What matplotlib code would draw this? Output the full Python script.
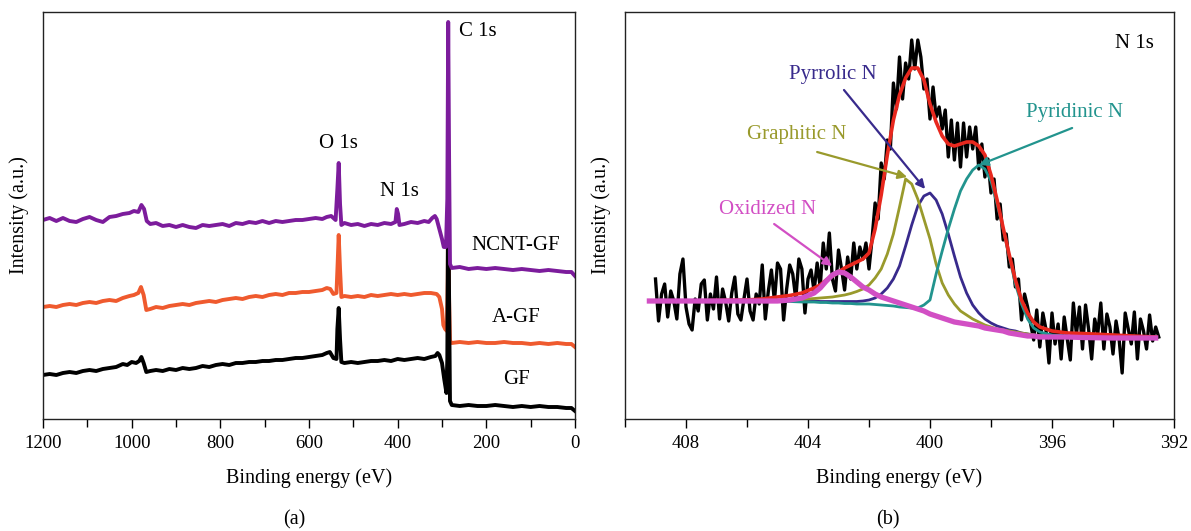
import numpy as np
import matplotlib.pyplot as plt
from matplotlib.ticker import MultipleLocator

plt.rcParams['font.family'] = ['Liberation Serif', 'DejaVu Serif']

# ---- (a) survey spectra: binding energy (eV) and intensity (a.u.) ----
ncnt_e = [1200, 1185, 1170, 1155, 1140, 1125, 1110, 1095, 1080, 1065, 1050, 1035, 1020, 1005,
          995, 985, 978, 972, 966, 958,
          945, 930, 915, 900, 885, 870, 855, 840, 825, 810, 795, 780, 765, 750, 735, 720, 705,
          690, 675, 660, 645, 630, 615, 600, 585, 570,
          560, 550, 540, 536, 533, 530, 527, 520,
          505, 490, 475, 460, 445, 430, 415,
          405, 402, 399, 396,
          385, 370, 355, 340,
          330, 322, 316, 312, 306, 300, 296, 291, 288, 286, 284, 282, 278,
          260, 240, 220, 200, 180, 160, 140, 120, 100, 80, 60, 40, 20,
          8, 0]
ncnt_i = [199, 201, 198, 201, 198, 197, 200, 202, 199, 197, 202, 203, 205, 206,
          208, 207, 214, 210, 198, 195,
          196, 193, 194, 192, 194, 192, 191, 194, 193, 194, 195, 193, 196, 195, 197, 196, 198,
          196, 198, 197, 198, 199, 199, 200, 201, 200,
          202, 203, 199, 230, 256, 215, 194, 196,
          194, 195, 193, 195, 194, 196, 195,
          197, 210, 205, 194,
          195, 197, 196, 198,
          197, 201, 203, 200, 190, 180, 172, 172, 220, 397, 260, 155, 151,
          152, 150, 151, 150, 151, 150, 149, 150, 149, 148, 149, 148, 147,
          147, 143]

agf_e = [1200, 1185, 1170, 1155, 1140, 1125, 1110, 1095, 1080, 1065, 1050, 1035, 1020, 1005,
         995, 985, 979, 973, 967, 958,
         945, 930, 915, 900, 885, 870, 855, 840, 825, 810, 795, 780, 765, 750, 735, 720, 705,
         690, 675, 660, 645, 630, 615, 600, 585, 570,
         560, 552, 545, 538, 535, 533, 530, 527, 520,
         505, 490, 475, 460, 445, 430, 415, 400, 385, 370, 355, 340,
         325, 312, 306, 300, 297, 293, 289, 287, 286, 284, 282, 278,
         260, 240, 220, 200, 180, 160, 140, 120, 100, 80, 60, 40, 20,
         8, 0]
agf_i = [112, 113, 112, 114, 115, 114, 116, 117, 116, 118, 119, 118, 121, 123,
         124, 126, 132, 124, 109, 110,
         112, 111, 113, 114, 115, 114, 116, 117, 118, 117, 119, 120, 121, 120, 122, 123, 122,
         124, 125, 124, 126, 126, 127, 127, 128, 129,
         131, 130, 125, 126, 160, 184, 150, 122, 123,
         122, 123, 122, 124, 123, 124, 125, 124, 125, 124, 125, 126,
         126, 125, 122, 110, 94, 90, 88, 140, 230, 120, 78, 76,
         77, 76, 77, 76, 76, 77, 76, 76, 75, 76, 75, 76, 75,
         75, 72]

gf_e = [1200, 1185, 1170, 1155, 1140, 1125, 1110, 1095, 1080, 1065, 1050, 1035, 1020,
        1010, 1000, 990, 983, 978, 973, 967, 958,
        945, 930, 915, 900, 885, 870, 855, 840, 825, 810, 795, 780, 765, 750, 735, 720, 705,
        690, 675, 660, 645, 630, 615, 600, 585, 570,
        560, 553, 545, 538, 536, 533, 530, 527, 520,
        505, 490, 475, 460, 445, 430, 415, 400, 385, 370, 355, 340,
        325, 315, 310, 306, 300, 295, 290, 288, 286, 284, 282, 278,
        260, 240, 220, 200, 180, 160, 140, 120, 100, 80, 60, 40, 20,
        8, 0]
gf_i = [44, 45, 44, 46, 47, 46, 48, 49, 48, 50, 51, 52, 55,
        54, 57, 56, 58, 62, 56, 47, 48,
        49, 48, 50, 49, 51, 50, 51, 53, 52, 54, 55, 54, 56, 56, 57, 57, 58,
        58, 59, 59, 60, 61, 61, 62, 63, 64,
        66, 67, 61, 60, 90, 111, 80, 57, 56,
        57, 56, 57, 58, 58, 59, 58, 60, 59, 60, 61, 60,
        62, 63, 66, 64, 56, 40, 26, 60, 240, 120, 18, 14,
        13, 14, 13, 13, 14, 13, 12, 13, 12, 13, 12, 12, 11,
        11, 8]

# ---- (b) N 1s high resolution spectrum ----
raw_start, raw_step, raw_n = 409.0, 0.1, 166
raw_i = [140, 98, 125, 135, 102, 128, 118, 100, 145, 160,
         112, 95, 89, 120, 108, 135, 139, 99, 125, 110,
         142, 100, 130, 117, 98, 126, 142, 105, 99, 120,
         140, 108, 99, 125, 115, 154, 100, 128, 149, 118,
         156, 150, 99, 130, 154, 145, 120, 160, 150, 106,
         140, 149, 128, 156, 132, 176, 150, 186, 140, 128,
         169, 150, 129, 162, 140, 176, 150, 172, 160, 176,
         150, 180, 216, 200, 256, 240, 279, 270, 336, 310,
         362, 320, 356, 340, 379, 350, 379, 362, 330, 340,
         300, 332, 302, 312, 290, 309, 262, 299, 259, 296,
         252, 296, 262, 292, 270, 292, 250, 275, 242, 260,
         226, 240, 200, 215, 179, 185, 152, 160, 132, 140,
         99, 125, 112, 95, 79, 109, 72, 106, 90, 56,
         106, 75, 95, 60, 102, 80, 59, 116, 85, 112,
         70, 114, 90, 60, 100, 85, 116, 70, 105, 92,
         65, 98, 80, 46, 106, 90, 75, 107, 60, 100,
         88, 70, 104, 78, 92, 82]

fit_e = [409.2, 408.0, 407.0, 406.0, 405.5, 405.0, 404.6, 404.2, 403.8,
         403.6, 403.4, 403.2, 403.0, 402.8, 402.6, 402.4, 402.2, 402.0,
         401.8, 401.6, 401.4, 401.2, 401.0, 400.8, 400.6, 400.4, 400.2, 400.0,
         399.8, 399.6, 399.4, 399.2, 399.0, 398.8, 398.6, 398.4, 398.2, 398.0,
         397.8, 397.6, 397.4, 397.2, 397.0, 396.8, 396.6, 396.4, 396.0,
         395.5, 395.0, 394.0, 393.0, 392.6]
fit_total = [118, 118, 118.5, 119, 120, 122, 123.5, 126, 131,
             134, 139, 143, 147, 151, 154, 157, 160, 166,
             190, 224, 264, 299, 324, 341, 351, 351, 339, 315,
             297, 283, 275, 273, 275, 277, 277, 273, 264, 244,
             219, 191, 164, 139, 119, 106, 97, 92, 88,
             86, 85.5, 84, 82.5, 82]
oxidized = [118, 118, 118, 118, 118, 118, 119, 121, 126,
            131, 138, 144, 147, 146, 142, 137, 132, 129,
            125, 122, 120, 118, 116, 114, 112, 110, 108, 105,
            103, 101, 99, 97, 96, 95, 94, 93, 91, 90,
            89, 88, 86, 85, 84, 83, 83, 82, 82,
            82, 81.5, 81, 81, 81]
pyridinic = [118, 118, 118, 118, 118, 118, 117.5, 117, 117,
             116.5, 116.5, 116, 116, 115.5, 115.5, 115, 115, 115,
             114.5, 114, 113.5, 113, 112, 111.5, 111, 111, 114, 119,
             145, 168, 190, 210, 228, 240, 249, 254, 250, 238,
             215, 190, 162, 135, 115, 100, 91, 87, 84,
             83, 82, 81.5, 81, 81]
pyrrolic = [118, 118, 118, 118, 118, 118, 118, 118, 118,
            117.5, 117.5, 117.5, 117.5, 117.5, 117.5, 117.5, 118, 119,
            121, 125, 131, 140, 153, 173, 194, 213, 223, 226,
            219, 205, 185, 163, 142, 126, 114, 106, 100, 96,
            93, 91, 89, 88, 86, 85, 84, 83, 83,
            82, 82, 81.5, 81, 81]
graphitic = [118, 118, 118, 118.5, 118.5, 118.5, 119, 119.5, 120.5,
             121, 121.5, 122, 123, 124, 125.5, 127.5, 130, 134,
             141, 150, 165, 185, 212, 240, 235, 220, 200, 180,
             155, 136, 124, 115, 108, 104, 100, 97, 94, 92,
             90, 89, 88, 87, 86, 85, 84, 83.5, 83,
             82.5, 82, 81.5, 81, 81]

raw_e = raw_start - raw_step * np.arange(raw_n)

c_purple = '#7c1c9c'
c_orange = '#ef5a2e'
c_red = '#e8281e'
c_pink = '#d24fc4'
c_teal = '#22948e'
c_blue = '#382a8c'
c_olive = '#999a2c'
fs_tick, fs_label, fs_note = 13.5, 14.5, 15

W, H = 1191, 531
fig = plt.figure(figsize=(W / 100, H / 100), dpi=100)
ax1 = fig.add_axes([43 / W, 1 - 419 / H, 532 / W, 407 / H])
ax2 = fig.add_axes([625 / W, 1 - 419 / H, 549 / W, 407 / H])

# (a)
ax1.plot(agf_e, agf_i, color=c_orange, lw=2.8)
ax1.plot(gf_e, gf_i, color='black', lw=2.8)
ax1.plot(ncnt_e, ncnt_i, color=c_purple, lw=2.8)
ax1.set_xlim(1200, 0)
ax1.set_ylim(0, 407)
ax1.xaxis.set_major_locator(MultipleLocator(200))
ax1.xaxis.set_minor_locator(MultipleLocator(100))
ax1.text(262, 387, 'C 1s', fontsize=fs_note, ha='left', va='center')
ax1.text(534, 276, 'O 1s', fontsize=fs_note, ha='center', va='center')
ax1.text(397, 228, 'N 1s', fontsize=fs_note, ha='center', va='center')
ax1.text(133, 174, 'NCNT-GF', fontsize=fs_note, ha='center', va='center')
ax1.text(133, 102, 'A-GF', fontsize=fs_note, ha='center', va='center')
ax1.text(133, 39, 'GF', fontsize=fs_note, ha='center', va='center')

# (b)
ax2.plot(raw_e, raw_i, color='black', lw=2.4)
ax2.plot(fit_e, pyrrolic, color=c_blue, lw=2.0)
ax2.plot(fit_e, graphitic, color=c_olive, lw=2.0)
ax2.plot(fit_e, pyridinic, color=c_teal, lw=2.0)
ax2.plot(fit_e, fit_total, color=c_red, lw=2.6)
ax2.plot(fit_e, oxidized, color=c_pink, lw=3.8)
ax2.set_xlim(410, 392)
ax2.set_ylim(0, 407)
ax2.xaxis.set_major_locator(MultipleLocator(4))
ax2.xaxis.set_minor_locator(MultipleLocator(2))
ax2.text(393.3, 376, 'N 1s', fontsize=fs_note, ha='center', va='center')

notes = [('Pyrrolic N', c_blue, (403.18, 345), (402.82, 329), (400.16, 230)),
         ('Graphitic N', c_olive, (404.36, 284), (403.70, 267), (400.75, 242)),
         ('Pyridinic N', c_teal, (395.25, 306), (395.34, 291), (398.39, 254)),
         ('Oxidized N', c_pink, (405.34, 210), (405.11, 195), (403.21, 153))]
for label, col, txt, start, tip in notes:
    ax2.text(txt[0], txt[1], label, color=col, fontsize=fs_note, ha='center', va='center')
    ax2.annotate('', xy=tip, xytext=start,
                 arrowprops=dict(arrowstyle='-|>', color=col, lw=1.6,
                                 mutation_scale=13, shrinkA=0, shrinkB=0))

for ax in (ax1, ax2):
    ax.set_yticks([])
    ax.tick_params(axis='x', which='major', direction='out', length=6.5, width=1.0,
                   labelsize=fs_tick, pad=5, top=False)
    ax.tick_params(axis='x', which='minor', direction='out', length=5.5, width=1.0, top=False)
    for sp in ax.spines.values():
        sp.set_linewidth(1.0)
        sp.set_color('#222222')
    ax.set_xlabel('Binding energy (eV)', fontsize=fs_label, labelpad=12)
    ax.set_ylabel('Intensity (a.u.)', fontsize=fs_label, labelpad=10)

fig.text(294 / W, 1 - 520 / H, '(a)', fontsize=fs_label, ha='center', va='center')
fig.text(888 / W, 1 - 520 / H, '(b)', fontsize=fs_label, ha='center', va='center')

fig.savefig('out.png', dpi=100)
